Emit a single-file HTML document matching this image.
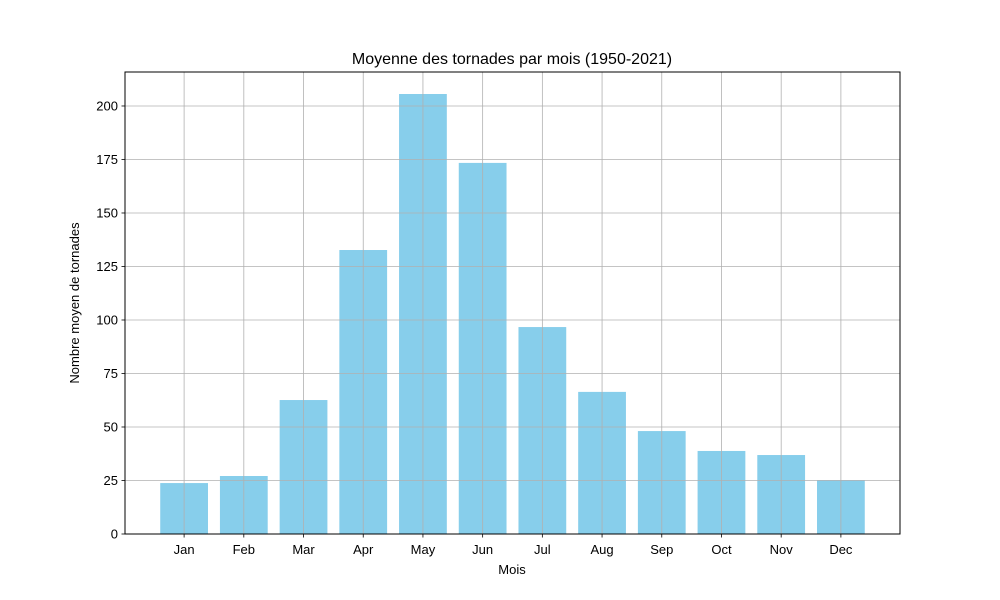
<!DOCTYPE html>
<html><head><meta charset="utf-8"><style>body{margin:0;background:#fff}svg{display:block;font-family:"Liberation Sans","DejaVu Sans",sans-serif}</style></head>
<body>
<svg id="chart" width="1000" height="600">
<rect width="1000" height="600" fill="#fff"/>
<g id="bars"></g><g id="grid"></g><g id="ticks"></g>
<rect x="125" y="72" width="775" height="462" fill="none" stroke="#000" stroke-width="1"/>
<text x="512" y="64" text-anchor="middle" font-size="16">Moyenne des tornades par mois (1950-2021)</text>
<text x="512" y="574" text-anchor="middle" font-size="13">Mois</text>
<text transform="translate(79,303) rotate(-90)" text-anchor="middle" font-size="13">Nombre moyen de tornades</text>
</svg>
<script>
const categories=["Jan","Feb","Mar","Apr","May","Jun","Jul","Aug","Sep","Oct","Nov","Dec"];
const values=[23.8,27.1,62.6,132.7,205.6,173.4,96.7,66.4,48.1,38.8,36.9,25.2];
const yTicks=[0,25,50,75,100,125,150,175,200];
const L=125,R=900,T=72,B=534;
const yMax=Math.max(...values)*1.05;
const y=v=>B-(v/yMax)*(B-T);
const span=categories.length-1+0.8;
const xMin=-0.4-0.05*span,xMax=categories.length-1+0.4+0.05*span;
const x=i=>L+(i-xMin)/(xMax-xMin)*(R-L);
const ns="http://www.w3.org/2000/svg";
const mk=(t,a,p)=>{const e=document.createElementNS(ns,t);for(const k in a)e.setAttribute(k,a[k]);p.appendChild(e);return e;};
const bars=document.getElementById('bars'),grid=document.getElementById('grid'),ticks=document.getElementById('ticks');
const bw=(x(0.8)-x(0));
values.forEach((v,i)=>{
 const r=mk('rect',{x:x(i)-bw/2,y:y(v),width:bw,height:B-y(v),fill:'#87ceeb'},bars);
 
 
});
categories.forEach((c,i)=>{
 const g=mk('line',{x1:x(i),x2:x(i),y1:T,y2:B,stroke:'#b0b0b0','stroke-width':0.8},grid);
 
 
 mk('line',{x1:x(i),x2:x(i),y1:B,y2:B+3.5,stroke:'#000','stroke-width':0.8},ticks);
 const t=mk('text',{x:x(i),y:B+20,'text-anchor':'middle','font-size':13},ticks);t.textContent=c;
 
 
});
yTicks.forEach(v=>{
 const g=mk('line',{x1:L,x2:R,y1:y(v),y2:y(v),stroke:'#b0b0b0','stroke-width':0.8},grid);
 
 
 mk('line',{x1:L-3.5,x2:L,y1:y(v),y2:y(v),stroke:'#000','stroke-width':0.8},ticks);
 const t=mk('text',{x:L-7,y:y(v)+4.5,'text-anchor':'end','font-size':13},ticks);t.textContent=v;
 
 
});
</script>
</body></html>
